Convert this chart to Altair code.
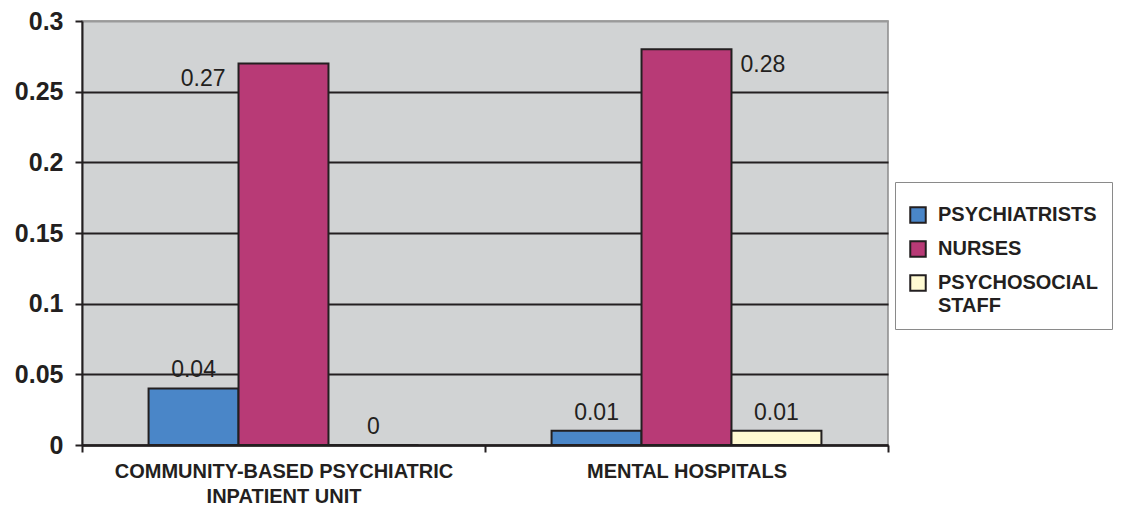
import altair as alt
import pandas as pd

categories = ["COMMUNITY-BASED PSYCHIATRIC INPATIENT UNIT", "MENTAL HOSPITALS"]
series = ["PSYCHIATRISTS", "NURSES", "PSYCHOSOCIAL STAFF"]
psychiatrists = [0.04, 0.01]
nurses = [0.27, 0.28]
psychosocial = [0.0, 0.01]
colors = ["#4a86c8", "#b83a76", "#fffad2"]
y_ticks = [0, 0.05, 0.1, 0.15, 0.2, 0.25, 0.3]

rows = []
for i, c in enumerate(categories):
    for s, vals in zip(series, [psychiatrists, nurses, psychosocial]):
        rows.append({"category": c, "series": s, "value": vals[i], "label": f"{vals[i]:g}"})
df = pd.DataFrame(rows)

FONT = "Liberation Sans"
INK = "#231f20"

x_enc = alt.X(
    "category:N",
    sort=categories,
    scale=alt.Scale(paddingInner=0, paddingOuter=0),
    axis=alt.Axis(
        title=None,
        labelAngle=0,
        labelFont=FONT,
        labelFontSize=20,
        labelFontWeight="bold",
        labelColor=INK,
        labelPadding=9,
        labelLimit=600,
        labelLineHeight=25,
        labelExpr="datum.value == 'COMMUNITY-BASED PSYCHIATRIC INPATIENT UNIT' ? ['COMMUNITY-BASED PSYCHIATRIC', 'INPATIENT UNIT'] : datum.value",
        tickBand="extent",
        tickSize=7,
        tickWidth=2,
        tickColor=INK,
        domainColor=INK,
        domainWidth=2.5,
        grid=False,
    ),
)
xoff_enc = alt.XOffset(
    "series:N", sort=series, scale=alt.Scale(paddingOuter=0.74, paddingInner=0)
)
y_enc = alt.Y(
    "value:Q",
    scale=alt.Scale(domain=[0, 0.3], nice=False),
    axis=alt.Axis(
        title=None,
        values=y_ticks,
        format="~g",
        labelFont=FONT,
        labelFontSize=25,
        labelFontWeight="bold",
        labelColor=INK,
        labelPadding=12,
        tickSize=7,
        tickWidth=2,
        tickColor=INK,
        domainColor=INK,
        domainWidth=2,
        grid=True,
        gridColor=alt.condition("datum.value >= 0.3", alt.value("#9a9a9a"), alt.value(INK)),
        gridWidth=2,
    ),
)

base = alt.Chart(df)

bars = base.mark_bar(stroke=INK, strokeWidth=2).encode(
    x=x_enc,
    xOffset=xoff_enc,
    y=y_enc,
    color=alt.Color(
        "series:N",
        sort=series,
        scale=alt.Scale(domain=series, range=colors),
        legend=alt.Legend(
            title=" ",
            titleFontSize=6,
            titlePadding=4,
            orient="none",
            legendX=813,
            legendY=161,
            direction="vertical",
            fillColor="white",
            strokeColor="#8a8a8a",
            padding=13,
            rowPadding=10,
            symbolType="square",
            symbolSize=240,
            symbolStrokeColor=INK,
            symbolStrokeWidth=2,
            labelFont=FONT,
            labelFontSize=20,
            labelFontWeight="bold",
            labelColor=INK,
            labelOffset=10,
            labelLimit=300,
            labelExpr="datum.label == 'PSYCHOSOCIAL STAFF' ? ['PSYCHOSOCIAL', 'STAFF'] : datum.label",
        ),
    ),
)

text_common = dict(font=FONT, fontSize=23, color=INK, baseline="middle")

other_labels = base.transform_filter(alt.datum.series != "NURSES").mark_text(
    dy=-18, align="center", **text_common
).encode(x=x_enc, xOffset=xoff_enc, y=y_enc, text="label:N")

nurse_left = base.transform_filter(
    (alt.datum.series == "NURSES") & (alt.datum.category == categories[0])
).mark_text(dx=-58, dy=16, align="right", **text_common).encode(
    x=x_enc, xOffset=xoff_enc, y=y_enc, text="label:N"
)

nurse_right = base.transform_filter(
    (alt.datum.series == "NURSES") & (alt.datum.category == categories[1])
).mark_text(dx=54, dy=16, align="left", **text_common).encode(
    x=x_enc, xOffset=xoff_enc, y=y_enc, text="label:N"
)

chart = (
    alt.layer(bars, other_labels, nurse_left, nurse_right)
    .properties(
        width=806,
        height=424,
        autosize=alt.AutoSizeParams(type="none"),
        padding={"left": 74, "top": 13, "right": 230, "bottom": 60},
        background="white",
    )
    .configure(
        view=alt.ViewConfig(fill="#d1d3d4", stroke="#8a8a8a", strokeWidth=1.5),
        style={"guide-label": {"lineHeight": 23}},
    )
)

chart.save("out.html", embed_options={"renderer": "svg", "actions": False})
